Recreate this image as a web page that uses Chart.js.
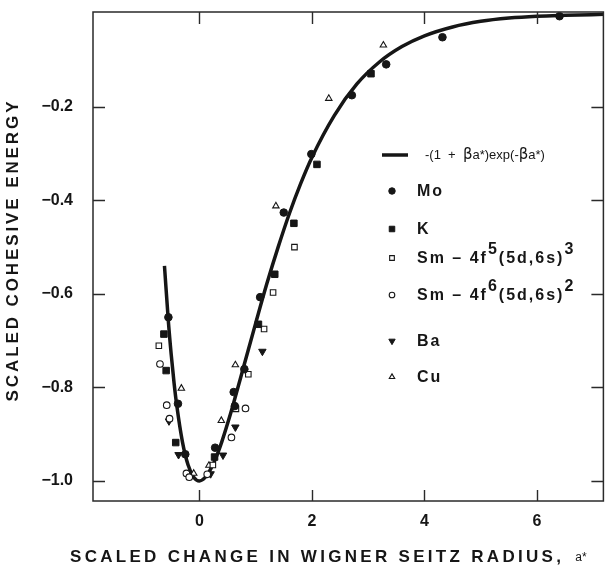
<!DOCTYPE html>
<html>
<head>
<meta charset="utf-8">
<script src="https://cdn.jsdelivr.net/npm/chart.js@4/dist/chart.umd.min.js"></script>
<style>
  body { margin: 0; background: #fff; }
  #wrap { width: 609px; height: 570px; position: relative; }
</style>
</head>
<body>
<div id="wrap"><canvas id="cohesiveChart"></canvas></div>
<script>
// axis ticks
const xTicks = [0, 2, 4, 6];
const yTicks = [-1.0, -0.8, -0.6, -0.4, -0.2];

// fitted curve -(1 + b a*) exp(-b a*)
const curveX = [-0.62, -0.55, -0.5, -0.45, -0.4, -0.3, -0.2, -0.1, 0, 0.1, 0.2, 0.3, 0.4, 0.5, 0.6, 0.8, 1.0, 1.2, 1.4, 1.6, 1.8, 2.0, 2.4, 2.8, 3.2, 3.6, 4.0, 4.5, 5.0, 5.5, 6.0, 6.5, 7.2];
const curveY = [-0.54, -0.66, -0.73, -0.79, -0.84, -0.917, -0.966, -0.992, -1.0, -0.993, -0.975, -0.949, -0.916, -0.878, -0.837, -0.750, -0.663, -0.578, -0.500, -0.428, -0.364, -0.308, -0.218, -0.151, -0.104, -0.071, -0.048, -0.029, -0.017, -0.010, -0.006, -0.004, -0.002];

// Mo
const moX = [-0.55, -0.38, -0.25, 0.28, 0.61, 0.63, 0.80, 1.08, 1.50, 1.99, 2.71, 3.32, 4.32, 6.40];
const moY = [-0.650, -0.835, -0.943, -0.929, -0.810, -0.840, -0.761, -0.607, -0.426, -0.301, -0.175, -0.109, -0.051, -0.006];
// K
const kX = [-0.63, -0.59, -0.42, 0.27, 1.05, 1.34, 1.68, 2.09, 3.05];
const kY = [-0.686, -0.764, -0.918, -0.949, -0.665, -0.558, -0.449, -0.323, -0.129];
// Sm - 4f5(5d,6s)3
const sm5X = [-0.72, 0.24, 0.65, 0.87, 1.15, 1.31, 1.69];
const sm5Y = [-0.711, -0.966, -0.846, -0.772, -0.675, -0.597, -0.500];
// Sm - 4f6(5d,6s)2
const sm6X = [-0.70, -0.58, -0.53, -0.23, -0.18, 0.14, 0.57, 0.82];
const sm6Y = [-0.750, -0.838, -0.867, -0.984, -0.992, -0.986, -0.907, -0.845];
// Ba
const baX = [-0.54, -0.37, 0.20, 0.42, 0.64, 1.12];
const baY = [-0.872, -0.944, -0.985, -0.945, -0.885, -0.723];
// Cu
const cuX = [-0.32, -0.10, 0.17, 0.39, 0.64, 1.36, 2.30, 3.27];
const cuY = [-0.802, -0.984, -0.967, -0.871, -0.752, -0.412, -0.182, -0.068];

const INK = '#161616';
const pts = (xs, ys) => xs.map((x, i) => ({ x: x, y: ys[i] }));

const markerStyles = {
    mo:  { pointStyle: 'circle',   radius: 3.8, rotation: 0,   fill: INK,    borderWidth: 1 },
    k:   { pointStyle: 'rect',     radius: 4.6, rotation: 0,   fill: INK,    borderWidth: 1 },
    sm5: { pointStyle: 'rect',     radius: 3.9, rotation: 0,   fill: '#fff', borderWidth: 1.1 },
    sm6: { pointStyle: 'circle',   radius: 3.3, rotation: 0,   fill: '#fff', borderWidth: 1.1 },
    ba:  { pointStyle: 'triangle', radius: 4.3, rotation: 180, fill: INK,    borderWidth: 1 },
    cu:  { pointStyle: 'triangle', radius: 3.7, rotation: 0,   fill: '#fff', borderWidth: 1.1 }
};

function scatterSet(label, xs, ys, key) {
    const m = markerStyles[key];
    return {
        type: 'scatter',
        label: label,
        data: pts(xs, ys),
        pointStyle: m.pointStyle,
        pointRadius: m.radius,
        pointRotation: m.rotation,
        pointBackgroundColor: m.fill,
        pointBorderColor: INK,
        pointBorderWidth: m.borderWidth,
        order: 1
    };
}

//Frame, inward ticks, axis titles, legend
const decorations = {
    id: 'decorations',
    afterDatasetsDraw(chart) {
        const ctx = chart.ctx;
        const a = chart.chartArea;
        const xs = chart.scales.x;
        const ys = chart.scales.y;
        ctx.save();
        ctx.strokeStyle = '#2a2a2a';
        ctx.lineWidth = 1.5;
        ctx.strokeRect(a.left, a.top, a.right - a.left, a.bottom - a.top);

        ctx.lineWidth = 1.4;
        ctx.beginPath();
        xTicks.forEach(v => {
            const px = Math.round(xs.getPixelForValue(v)) + 0.5;
            ctx.moveTo(px, a.bottom); ctx.lineTo(px, a.bottom - 11);
            ctx.moveTo(px, a.top); ctx.lineTo(px, a.top + 12);
        });
        yTicks.forEach(v => {
            const py = Math.round(ys.getPixelForValue(v)) + 0.5;
            ctx.moveTo(a.left, py); ctx.lineTo(a.left + 12, py);
            ctx.moveTo(a.right, py); ctx.lineTo(a.right - 12, py);
        });
        ctx.stroke();

        // axis titles
        ctx.fillStyle = INK;
        ctx.textBaseline = 'alphabetic';
        ctx.textAlign = 'left';
        ctx.font = 'bold 17px "Liberation Sans", Arial, sans-serif';
        ctx.letterSpacing = '3.3px';
        const xTitle = 'SCALED CHANGE IN WIGNER SEITZ RADIUS,';
        ctx.fillText(xTitle, 70, 562);
        const xw = ctx.measureText(xTitle).width;
        ctx.letterSpacing = '0px';
        ctx.font = '12px "Liberation Sans Narrow", "Liberation Sans", sans-serif';
        ctx.fillText('a*', 70 + xw + 11, 561);

        ctx.save();
        ctx.translate(13, 250);
        ctx.rotate(-Math.PI / 2);
        ctx.textAlign = 'center';
        ctx.textBaseline = 'middle';
        ctx.font = 'bold 17px "Liberation Sans", Arial, sans-serif';
        ctx.letterSpacing = '2.9px';
        ctx.fillText('SCALED COHESIVE ENERGY', 0, 0);
        ctx.restore();

        // legend
        ctx.letterSpacing = '0px';
        ctx.strokeStyle = INK;
        ctx.lineWidth = 3.5;
        ctx.beginPath();
        ctx.moveTo(382, 155); ctx.lineTo(408, 155);
        ctx.stroke();
        ctx.textBaseline = 'alphabetic';
        ctx.textAlign = 'left';
        const nf = '13px "Liberation Sans Narrow", "Liberation Sans", sans-serif';
        drawRuns(ctx, 425, 159, [
            { t: '-(1  +  ', f: nf },
            { t: 'β', f: '15px "DejaVu Sans", sans-serif' },
            { t: 'a*)exp(-', f: nf },
            { t: 'β', f: '15px "DejaVu Sans", sans-serif' },
            { t: 'a*)', f: nf }
        ], 0);

        const lf = 'bold 16px "Liberation Sans", Arial, sans-serif';
        const rows = [
            { key: 'mo', y: 191, runs: [{ t: 'Mo', f: lf }] },
            { key: 'k', y: 229, runs: [{ t: 'K', f: lf }] },
            { key: 'sm5', y: 258, runs: [{ t: 'Sm – 4f', f: lf }, { t: '5', f: lf, up: 9 }, { t: '(5d,6s)', f: lf }, { t: '3', f: lf, up: 9 }] },
            { key: 'sm6', y: 295, runs: [{ t: 'Sm – 4f', f: lf }, { t: '6', f: lf, up: 9 }, { t: '(5d,6s)', f: lf }, { t: '2', f: lf, up: 9 }] },
            { key: 'ba', y: 341, runs: [{ t: 'Ba', f: lf }] },
            { key: 'cu', y: 377, runs: [{ t: 'Cu', f: lf }] }
        ];
        rows.forEach(r => {
            const m = markerStyles[r.key];
            ctx.fillStyle = m.fill;
            ctx.strokeStyle = INK;
            ctx.lineWidth = m.borderWidth;
            Chart.helpers.drawPoint(ctx, {
                pointStyle: m.pointStyle,
                radius: m.radius * 0.85,
                rotation: m.rotation,
                borderWidth: m.borderWidth
            }, 392, r.y);
            ctx.fillStyle = INK;
            drawRuns(ctx, 417, r.y + 5, r.runs, 2);
        });
        ctx.restore();
    }
};

function drawRuns(ctx, x, y, runs, spacing) {
    ctx.letterSpacing = spacing + 'px';
    runs.forEach(r => {
        ctx.font = r.f;
        ctx.fillText(r.t, x, y - (r.up || 0));
        x += ctx.measureText(r.t).width;
    });
    ctx.letterSpacing = '0px';
}

const ctx = document.getElementById('cohesiveChart').getContext('2d');
const cohesiveChart = new Chart(ctx, {
    data: {
        datasets: [
            {
                type: 'line',
                label: 'curve',
                data: pts(curveX, curveY),
                borderColor: INK,
                borderWidth: 3.5,
                pointRadius: 0,
                cubicInterpolationMode: 'monotone',
                fill: false,
                order: 5
            },
            scatterSet('Mo', moX, moY, 'mo'),
            scatterSet('K', kX, kY, 'k'),
            scatterSet('Sm - 4f5(5d,6s)3', sm5X, sm5Y, 'sm5'),
            scatterSet('Sm - 4f6(5d,6s)2', sm6X, sm6Y, 'sm6'),
            scatterSet('Ba', baX, baY, 'ba'),
            scatterSet('Cu', cuX, cuY, 'cu')
        ]
    },
    options: {
        responsive: true,
        maintainAspectRatio: false,
        animation: false,
        layout: { padding: { top: 12, right: 5, left: 0, bottom: 0 } },
        plugins: {
            legend: { display: false },
            tooltip: { enabled: false }
        },
        scales: {
            x: {
                type: 'linear',
                min: -1.89,
                max: 7.18,
                grid: { display: false, drawTicks: false },
                border: { display: false },
                afterBuildTicks: scale => { scale.ticks = xTicks.map(v => ({ value: v })); },
                afterFit: scale => { scale.height = 69; scale.paddingLeft = 0; scale.paddingRight = 0; },
                ticks: {
                    padding: 11,
                    color: INK,
                    font: { family: '"Liberation Sans", Arial, sans-serif', size: 16, weight: 'bold' },
                    callback: v => String(v)
                }
            },
            y: {
                type: 'linear',
                min: -1.043,
                max: 0.003,
                grid: { display: false, drawTicks: false },
                border: { display: false },
                afterBuildTicks: scale => { scale.ticks = yTicks.map(v => ({ value: v })); },
                afterFit: scale => { scale.width = 93; scale.paddingTop = 0; scale.paddingBottom = 0; },
                ticks: {
                    padding: 20,
                    color: INK,
                    font: { family: '"Liberation Sans", Arial, sans-serif', size: 16, weight: 'bold' },
                    callback: v => (v < 0 ? '−' : '') + Math.abs(v).toFixed(1)
                }
            }
        }
    },
    plugins: [decorations]
});
</script>
</body>
</html>
